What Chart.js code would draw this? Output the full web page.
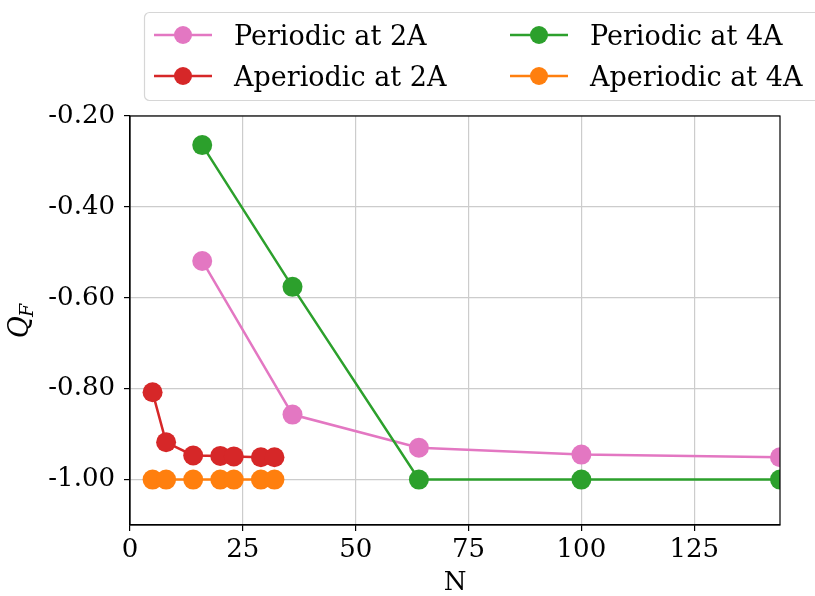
<!DOCTYPE html>
<html>
<head>
<meta charset="utf-8">
<script src="https://cdn.jsdelivr.net/npm/chart.js@4.4.1/dist/chart.umd.min.js"></script>
<style>
  html, body { margin: 0; padding: 0; background: #fff; }
</style>
</head>
<body>
<canvas id="chart" width="815" height="596"></canvas>
<script>
// data
const periodicN = [16, 36, 64, 100, 144];
const periodic2A = [-0.519, -0.857, -0.930, -0.945, -0.951];
const periodic4A = [-0.264, -0.576, -1.0, -1.0, -1.0];
const aperiodicN = [5, 8, 14, 20, 23, 29, 32];
const aperiodic2A = [-0.808, -0.918, -0.947, -0.948, -0.949, -0.951, -0.951];
const aperiodic4A = [-1.0, -1.0, -1.0, -1.0, -1.0, -1.0, -1.0];
const xTicks = [0, 25, 50, 75, 100, 125];
const yTicks = [-1.0, -0.8, -0.6, -0.4, -0.2];
const seriesNames = ['Periodic at 2A', 'Aperiodic at 2A', 'Periodic at 4A', 'Aperiodic at 4A'];
const seriesColors = ['#e377c2', '#d62728', '#2ca02c', '#ff7f0e'];

const FONT = "'DejaVu Serif', serif";

function toPoints(xs, ys) {
  return xs.map((x, i) => ({ x: x, y: ys[i] }));
}

function makeSet(idx, xs, ys) {
  return {
    label: seriesNames[idx],
    data: toPoints(xs, ys),
    borderColor: seriesColors[idx],
    backgroundColor: seriesColors[idx],
    borderWidth: 2.5,
    pointRadius: 10,
    pointHoverRadius: 10,
    pointBorderWidth: 0,
    order: 4 - idx,
  };
}

// matplotlib style frame round the plot area
const framePlugin = {
  id: 'frame',
  afterDatasetsDraw(chart) {
    const a = chart.chartArea;
    const ctx = chart.ctx;
    ctx.save();
    ctx.strokeStyle = '#000';
    ctx.lineWidth = 1.2;
    ctx.strokeRect(a.left, a.top, a.right - a.left, a.bottom - a.top);
    ctx.restore();
  }
};

// Q_F axis label, rotated, with subscript
const yLabelPlugin = {
  id: 'yLabel',
  afterDraw(chart) {
    const ctx = chart.ctx;
    const a = chart.chartArea;
    ctx.save();
    ctx.translate(28, (a.top + a.bottom) / 2);
    ctx.rotate(-Math.PI / 2);
    ctx.fillStyle = '#000';
    ctx.textBaseline = 'alphabetic';
    ctx.font = 'italic 27px ' + FONT;
    const qw = ctx.measureText('Q').width;
    ctx.font = 'italic 19px ' + FONT;
    const fw = ctx.measureText('F').width;
    const start = -(qw + fw) / 2;
    ctx.font = 'italic 27px ' + FONT;
    ctx.fillText('Q', start, 0);
    ctx.font = 'italic 19px ' + FONT;
    ctx.fillText('F', start + qw - 1, 5);
    ctx.restore();
  }
};

// two column legend above the axes
const legendPlugin = {
  id: 'twoColLegend',
  afterDraw(chart) {
    const ctx = chart.ctx;
    ctx.save();
    ctx.beginPath();
    ctx.roundRect(144.5, 12.5, 680, 88, 5);
    ctx.fillStyle = 'rgba(255,255,255,0.8)';
    ctx.fill();
    ctx.strokeStyle = '#d6d6d6';
    ctx.lineWidth = 1.2;
    ctx.stroke();

    const cols = [154, 510];
    const rows = [35, 76];
    // matplotlib fills columns first
    for (let i = 0; i < chart.data.datasets.length; i++) {
      const ds = chart.data.datasets[i];
      const cx = cols[Math.floor(i / 2)];
      const cy = rows[i % 2];
      ctx.strokeStyle = ds.borderColor;
      ctx.lineWidth = 2.5;
      ctx.beginPath();
      ctx.moveTo(cx, cy);
      ctx.lineTo(cx + 58, cy);
      ctx.stroke();
      ctx.fillStyle = ds.backgroundColor;
      ctx.beginPath();
      ctx.arc(cx + 29, cy, 9, 0, Math.PI * 2);
      ctx.fill();
      ctx.fillStyle = '#000';
      ctx.font = '27px ' + FONT;
      ctx.textBaseline = 'alphabetic';
      ctx.fillText(ds.label, cx + 80, cy + 10);
    }
    ctx.restore();
  }
};

new Chart(document.getElementById('chart'), {
  type: 'line',
  data: {
    datasets: [
      makeSet(0, periodicN, periodic2A),
      makeSet(1, aperiodicN, aperiodic2A),
      makeSet(2, periodicN, periodic4A),
      makeSet(3, aperiodicN, aperiodic4A),
    ]
  },
  options: {
    responsive: false,
    animation: false,
    devicePixelRatio: 1,
    layout: { padding: { top: 116, right: 35, left: 0, bottom: 0 } },
    plugins: {
      legend: { display: false },
      tooltip: { enabled: false },
    },
    scales: {
      x: {
        type: 'linear',
        min: 0,
        max: 144,
        afterBuildTicks: s => { s.ticks = xTicks.map(v => ({ value: v })); },
        afterFit: s => { s.height = 71; },
        ticks: {
          color: '#000',
          font: { family: FONT, size: 26 },
          padding: 4,
          maxRotation: 0,
          callback: v => String(v),
        },
        grid: { color: '#cccccc', lineWidth: 1.2, tickColor: '#000', tickLength: 6 },
        border: { color: '#000', width: 1.2 },
        title: {
          display: true,
          text: 'N',
          color: '#000',
          font: { family: FONT, size: 26, lineHeight: 1 },
          padding: { top: 0, bottom: 0 },
        },
      },
      y: {
        min: -1.1,
        max: -0.2,
        afterBuildTicks: s => { s.ticks = yTicks.map(v => ({ value: v })); },
        afterFit: s => { s.width = 130; },
        ticks: {
          color: '#000',
          font: { family: FONT, size: 26 },
          padding: 9,
          callback: v => v.toFixed(2),
        },
        grid: { color: '#cccccc', lineWidth: 1.2, tickColor: '#000', tickLength: 6 },
        border: { color: '#000', width: 1.2 },
      }
    }
  },
  plugins: [framePlugin, yLabelPlugin, legendPlugin]
});
</script>
</body>
</html>
